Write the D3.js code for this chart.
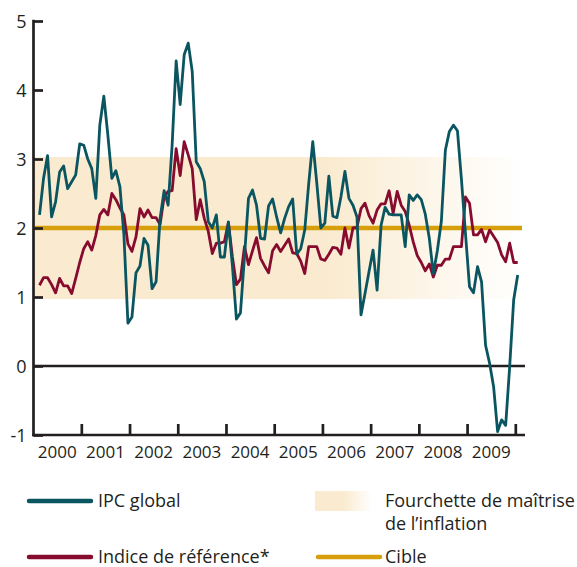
<!DOCTYPE html>
<html><head><meta charset="utf-8">
<script src="https://cdn.jsdelivr.net/npm/d3@7"></script>
<style>body{margin:0;background:#fff}svg{display:block}text{font-family:"Open Sans",sans-serif;fill:#231f20}</style>
</head><body>
<script>
// ---- data ----
const years = [2000,2001,2002,2003,2004,2005,2006,2007,2008,2009];
const yTicks = [-1,0,1,2,3,4,5];
// monthly, Feb 2000 .. Jan 2010
const ipcGlobal = [
 2.19,2.72,3.05,2.16,2.38,2.81,2.90,2.57,2.67,2.77,3.22,3.20,
 3.00,2.86,2.43,3.49,3.91,3.35,2.72,2.83,2.60,1.90,0.62,0.71,
 1.35,1.45,1.85,1.75,1.12,1.22,2.14,2.54,2.33,3.20,4.42,3.79,
 4.51,4.68,4.27,2.96,2.86,2.67,2.09,2.00,2.19,1.58,1.58,2.09,
 1.45,0.68,0.77,1.58,2.43,2.55,2.33,1.85,1.84,2.32,2.42,2.16,
 1.93,2.14,2.31,2.42,1.62,1.70,1.97,2.65,3.25,2.65,2.00,2.07,
 2.75,2.17,2.15,2.45,2.82,2.43,2.33,2.16,0.74,1.05,1.37,1.68,
 1.10,2.04,2.30,2.20,2.19,2.19,2.19,1.73,2.48,2.40,2.48,2.41,
 2.20,1.85,1.34,1.67,2.10,3.13,3.40,3.49,3.41,2.70,1.92,1.15,
 1.06,1.44,1.22,0.30,0.04,-0.30,-0.95,-0.78,-0.86,-0.01,0.96,1.32
];
const indiceRef = [
 1.17,1.28,1.28,1.18,1.06,1.27,1.16,1.16,1.05,1.27,1.50,1.70,
 1.80,1.68,1.89,2.19,2.27,2.19,2.50,2.41,2.29,2.19,1.77,1.66,
 1.87,2.28,2.16,2.26,2.15,2.15,2.05,2.45,2.53,2.54,3.15,2.76,
 3.25,3.06,2.86,2.12,2.41,2.14,1.95,1.63,1.78,1.78,1.80,2.08,
 1.58,1.18,1.26,1.73,1.47,1.67,1.86,1.56,1.45,1.35,1.67,1.76,
 1.66,1.75,1.84,1.64,1.63,1.52,1.34,1.73,1.73,1.73,1.55,1.53,
 1.62,1.72,1.71,1.62,2.00,1.71,2.00,2.01,2.28,2.36,2.18,2.07,
 2.26,2.35,2.35,2.54,2.21,2.53,2.33,2.24,2.04,1.80,1.60,1.50,
 1.38,1.48,1.29,1.46,1.46,1.55,1.55,1.73,1.73,1.73,2.45,2.36,
 1.90,1.90,1.98,1.80,1.97,1.88,1.79,1.61,1.51,1.78,1.50,1.50
];
const bandRange = [1, 3];
const cible = 2;
const legendLabels = ["IPC global", "Indice de référence*", "Fourchette de maîtrise", "de l’inflation", "Cible"];

// ---- styles ----
const TEAL = "#0a5560", RED = "#870b2f", GOLD = "#d89f0d", BAND = "#faebd0", INK = "#231f20";

const W = 577, H = 567;
const svg = d3.select("body").append("svg").attr("width", W).attr("height", H);
const x = d3.scaleLinear().domain([2000, 2010]).range([33.1, 515.3]);
const y = d3.scaleLinear().domain([-1, 5]).range([435, 21]);
const axX = 33.5, xEnd = 525;
const tOf = i => 2000 + (i + 1.6) / 12;

const defs = svg.append("defs");
const g1 = defs.append("linearGradient").attr("id", "bandGrad").attr("x1", 0).attr("x2", 1).attr("y1", 0).attr("y2", 0);
g1.append("stop").attr("offset", 0).attr("stop-color", BAND);
g1.append("stop").attr("offset", 0.6).attr("stop-color", BAND);
g1.append("stop").attr("offset", 1).attr("stop-color", "#ffffff");
const g2 = defs.append("linearGradient").attr("id", "swGrad").attr("x1", 0).attr("x2", 1).attr("y1", 0).attr("y2", 0);
g2.append("stop").attr("offset", 0).attr("stop-color", BAND);
g2.append("stop").attr("offset", 0.5).attr("stop-color", BAND);
g2.append("stop").attr("offset", 1).attr("stop-color", "#ffffff");

// band
svg.append("rect").attr("x", axX).attr("width", 522 - axX)
  .attr("y", y(bandRange[1]) - 2).attr("height", y(bandRange[0]) - y(bandRange[1]) + 4)
  .attr("fill", "url(#bandGrad)");

// target
svg.append("line").attr("x1", axX).attr("x2", 522).attr("y1", y(cible)).attr("y2", y(cible))
  .attr("stroke", GOLD).attr("stroke-width", 4.6);

// zero line
svg.append("line").attr("x1", axX).attr("x2", xEnd).attr("y1", y(0)).attr("y2", y(0))
  .attr("stroke", INK).attr("stroke-width", 2.6);

// series
const line = d3.line().x((d, i) => x(tOf(i))).y(d => y(d));
svg.append("path").datum(indiceRef).attr("d", line).attr("fill", "none")
  .attr("stroke", RED).attr("stroke-width", 2.8).attr("stroke-linejoin", "round");
svg.append("path").datum(ipcGlobal).attr("d", line).attr("fill", "none")
  .attr("stroke", TEAL).attr("stroke-width", 2.8).attr("stroke-linejoin", "round");

// y axis
const yAxis = d3.axisLeft(y).tickValues(yTicks).tickSizeInner(-9.5).tickSizeOuter(0).tickPadding(7)
  .tickFormat(d => d < 0 ? "-" + Math.abs(d) : d);
const gy = svg.append("g").attr("transform", `translate(${axX},0)`).call(yAxis);
gy.select(".domain").remove();
gy.selectAll(".tick line").attr("stroke", INK).attr("stroke-width", 2.7);
gy.selectAll(".tick text").attr("font-size", 18).attr("dy", "0.36em").style("font-family", '"Open Sans",sans-serif').attr("fill", INK);
svg.append("line").attr("x1", axX).attr("x2", axX).attr("y1", y(5) - 1.3).attr("y2", y(-1) + 1.3)
  .attr("stroke", INK).attr("stroke-width", 2.7);

// x axis
const xAxis = d3.axisBottom(x).tickValues(years.map(v => v + 1)).tickSizeInner(-11).tickSizeOuter(0).tickFormat("");
const gx = svg.append("g").attr("transform", `translate(0,${y(-1)})`).call(xAxis);
gx.select(".domain").remove();
gx.selectAll(".tick line").attr("stroke", INK).attr("stroke-width", 2.7);
svg.append("line").attr("x1", axX - 1.3).attr("x2", xEnd).attr("y1", y(-1)).attr("y2", y(-1))
  .attr("stroke", INK).attr("stroke-width", 2.7);
svg.selectAll(".ylab").data(years).enter().append("text")
  .attr("x", d => x(d + 0.5)).attr("y", 458).attr("text-anchor", "middle")
  .attr("font-size", 17).text(d => d);

// legend
const leg = svg.append("g");
function legLine(x1, x2, yy, col) {
  leg.append("line").attr("x1", x1).attr("x2", x2).attr("y1", yy).attr("y2", yy)
    .attr("stroke", col).attr("stroke-width", 4.5).attr("stroke-linecap", "round");
}
legLine(29, 91, 501, TEAL);
leg.append("text").attr("x", 98).attr("y", 507).attr("font-size", 18).text(legendLabels[0]);
legLine(29, 91, 557, RED);
leg.append("text").attr("x", 98).attr("y", 563).attr("font-size", 18).text(legendLabels[1]);
leg.append("rect").attr("x", 315).attr("y", 491).attr("width", 57).attr("height", 20).attr("fill", "url(#swGrad)");
leg.append("text").attr("x", 385).attr("y", 507).attr("font-size", 18).text(legendLabels[2]);
leg.append("text").attr("x", 385).attr("y", 530).attr("font-size", 18).text(legendLabels[3]);
legLine(318, 380, 557, GOLD);
leg.append("text").attr("x", 385).attr("y", 563).attr("font-size", 18).text(legendLabels[4]);
</script>
</body></html>
